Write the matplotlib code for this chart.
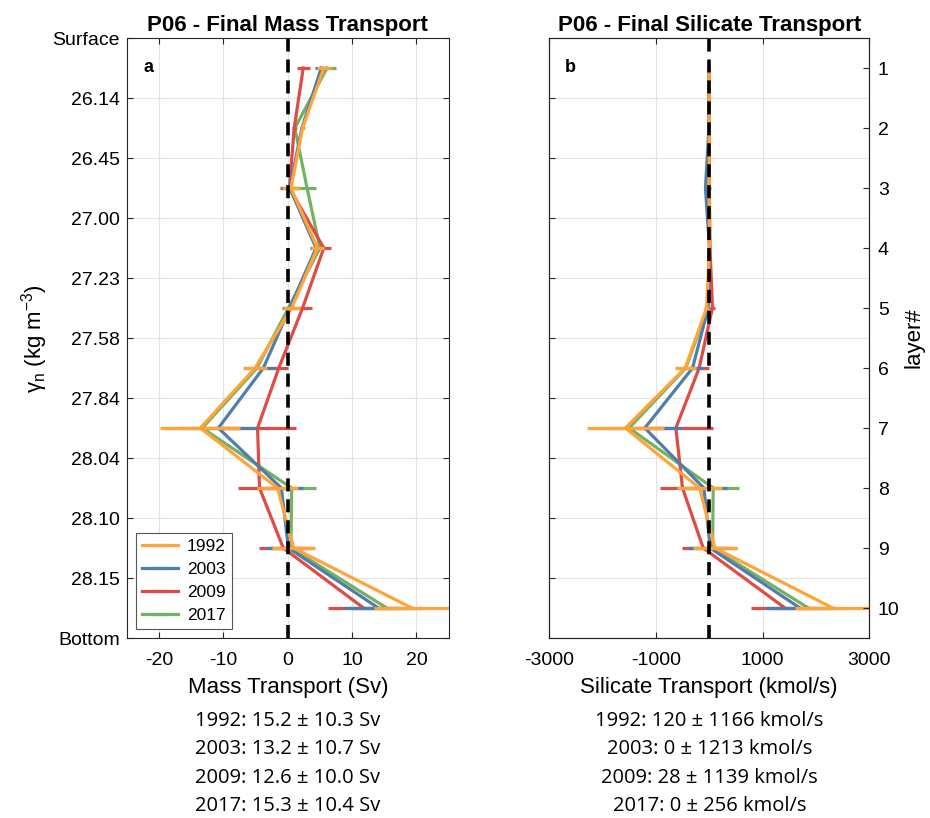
import numpy as np
import matplotlib.pyplot as plt

plt.rcParams['font.family'] = ['Liberation Sans', 'DejaVu Sans']
plt.rcParams['axes.unicode_minus'] = False

years = ['1992', '2003', '2009', '2017']
colors = ['#FFA43A', '#4F7EAB', '#DF4B45', '#74B263']
layers = np.arange(1, 11)
gamma_labels = ['Surface', '26.14', '26.45', '27.00', '27.23', '27.58',
                '27.84', '28.04', '28.10', '28.15', 'Bottom']

# mass transport per layer (Sv) and its uncertainty
mass_1992 = [5.6, 2.3, 0.5, 4.6, 0.6, -5.1, -13.6, -1.6, 0.9, 19.3]
mass_2003 = [5.2, 2.2, 0.3, 4.4, 0.3, -3.8, -10.8, -1.0, 0.1, 14.1]
mass_2009 = [2.4, 1.0, 0.25, 5.6, 2.3, -1.4, -4.7, -4.4, -0.7, 11.8]
mass_2017 = [6.1, 1.1, 3.0, 5.0, 0.1, -4.8, -13.3, 0.6, 0.5, 15.4]
mass_err_1992 = [1.1, 0.3, 1.4, 1.0, 1.3, 1.8, 6.2, 3.25, 3.35, 5.9]
mass_err_2003 = [1.0, 0.3, 1.4, 1.0, 1.2, 1.8, 6.0, 3.3, 3.5, 5.4]
mass_err_2009 = [1.0, 0.3, 1.5, 1.1, 1.4, 1.4, 6.0, 3.3, 3.7, 5.5]
mass_err_2017 = [1.4, 0.3, 1.45, 1.0, 0.9, 1.8, 6.1, 3.8, 3.6, 5.4]

# silicate transport per layer (kmol/s) and its uncertainty
si_1992 = [0, 0, 0, 5, -50, -450, -1570, -180, 107, 2315]
si_2003 = [0, -5, -70, 5, -20, -312, -1206, -100, 20, 1700]
si_2009 = [0, 0, 0, 15, 60, -188, -625, -500, -112, 1420]
si_2017 = [0, 0, 5, 5, -30, -440, -1500, 75, 63, 1857]
si_err_1992 = [15, 15, 20, 25, 40, 195, 720, 415, 418, 708]
si_err_2003 = [15, 15, 20, 25, 40, 190, 700, 430, 420, 650]
si_err_2009 = [15, 15, 20, 25, 40, 190, 690, 425, 405, 643]
si_err_2017 = [15, 15, 20, 25, 40, 190, 700, 490, 456, 657]

# section totals
mass_total = [15.2, 13.2, 12.6, 15.3]
mass_total_err = [10.3, 10.7, 10.0, 10.4]
si_total = [120, 0, 28, 0]
si_total_err = [1166, 1213, 1139, 256]

mass = [mass_1992, mass_2003, mass_2009, mass_2017]
mass_err = [mass_err_1992, mass_err_2003, mass_err_2009, mass_err_2017]
si = [si_1992, si_2003, si_2009, si_2017]
si_err = [si_err_1992, si_err_2003, si_err_2009, si_err_2017]

ypos = layers - 0.5
spine_col = '#262626'
tick_fs = 14
label_fs = 16

fig = plt.figure(figsize=(9.3, 8.18), dpi=100)
ax1 = fig.add_axes([0.1366, 0.22, 0.3457, 0.7335])
ax2 = fig.add_axes([0.5903, 0.22, 0.3446, 0.7335])


def draw_panel(ax, vals, errs):
    handles = [None] * 4
    # later years first so 1992 ends up on top
    for i in [3, 2, 1, 0]:
        h = ax.errorbar(vals[i], ypos, xerr=errs[i], color=colors[i], lw=2.3,
                        elinewidth=2.3, capsize=0, zorder=3 + (3 - i))
        handles[i] = h
    ax.axvline(0, color='k', lw=2.6, dashes=(3.6, 2.2), zorder=10)
    ax.set_ylim(10, 0)
    ax.grid(True, color='#e3e3e3', lw=0.8)
    ax.set_axisbelow(True)
    for s in ax.spines.values():
        s.set_color(spine_col)
        s.set_linewidth(0.8)
    ax.tick_params(direction='in', top=True, labelsize=tick_fs, colors=spine_col,
                   labelcolor='k', length=4, pad=5)
    ax.tick_params(axis='x', pad=10)
    return handles


h = draw_panel(ax1, mass, mass_err)
ax1.set_xlim(-25, 25)
ax1.set_xticks([-20, -10, 0, 10, 20])
ax1.set_yticks(np.arange(0, 11))
ax1.set_yticklabels(gamma_labels)
ax1.tick_params(right=True)
ax1.set_xlabel('Mass Transport (Sv)', fontsize=label_fs, labelpad=6)
ax1.set_ylabel('\u03b3$_\\mathregular{n}$ (kg m$^\\mathregular{-3}$)', fontsize=label_fs, labelpad=2)
ax1.set_title('P06 - Final Mass Transport', fontsize=16, fontweight='bold', pad=5)
ax1.text(0.05, 0.965, 'a', transform=ax1.transAxes, fontsize=13,
         fontweight='bold', va='top', ha='left')
leg = ax1.legend([h[0], h[1], h[2], h[3]], years, loc='lower left',
                 fontsize=12.5, handlelength=2.1, borderaxespad=0.5,
                 fancybox=False, framealpha=1, edgecolor='#555555',
                 labelspacing=0.45, handletextpad=0.5, borderpad=0.35)
leg.get_frame().set_linewidth(0.8)

draw_panel(ax2, si, si_err)
ax2.set_xlim(-3000, 3000)
ax2.set_xticks([-3000, -1000, 1000, 3000])
ax2.set_yticks(np.arange(1, 10))
ax2.set_yticklabels([])
ax2.tick_params(right=False)
ax2.set_xlabel('Silicate Transport (kmol/s)', fontsize=label_fs, labelpad=6)
ax2.set_title('P06 - Final Silicate Transport', fontsize=16, fontweight='bold', pad=5)
ax2.text(0.05, 0.965, 'b', transform=ax2.transAxes, fontsize=13,
         fontweight='bold', va='top', ha='left')

# layer numbers on the right side
ax3 = ax2.twinx()
ax3.set_ylim(10, 0)
ax3.set_yticks(ypos)
ax3.set_yticklabels([str(n) for n in layers])
ax3.tick_params(direction='in', labelsize=tick_fs, colors=spine_col,
                labelcolor='k', length=4, pad=6)
ax3.set_ylabel('layer#', fontsize=label_fs, labelpad=3)
for s in ax3.spines.values():
    s.set_color(spine_col)
    s.set_linewidth(0.8)

# section totals under each panel
for i, yr in enumerate(years):
    y = 1 - (726 + i * 28.3) / 818
    fig.text(0.3095, y, f'{yr}: {mass_total[i]:.1f} \u00b1 {mass_total_err[i]:.1f} Sv',
             ha='center', va='baseline', fontsize=14.5, family='Open Sans')
    fig.text(0.763, y, f'{yr}: {si_total[i]} \u00b1 {si_total_err[i]} kmol/s',
             ha='center', va='baseline', fontsize=14.5, family='Open Sans')

fig.savefig('out.png', dpi=100)
